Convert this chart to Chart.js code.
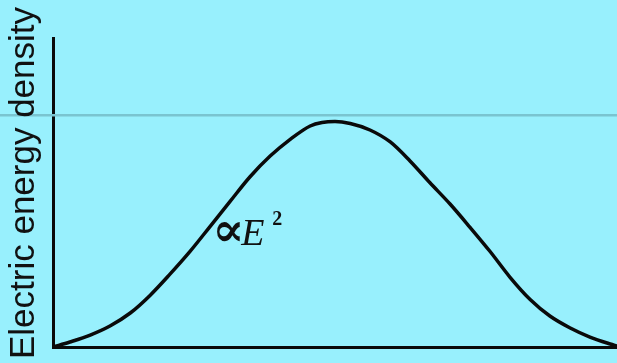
<!DOCTYPE html>
<html>
<head>
<meta charset="utf-8">
<script src="https://cdn.jsdelivr.net/npm/chart.js@4"></script>
<style>
  html, body { margin: 0; padding: 0; background: #98f0fd; }
  #wrap { width: 617px; height: 363px; position: relative; }
</style>
</head>
<body>
<div id="wrap"><canvas id="c"></canvas></div>
<script>
// Position across the region (0 = left edge, 1 = right edge)
const positions = [0, 0.030, 0.066, 0.101, 0.137, 0.172, 0.207, 0.243, 0.278, 0.314,
  0.349, 0.385, 0.420, 0.456, 0.477, 0.500, 0.527, 0.562, 0.598, 0.633,
  0.668, 0.704, 0.739, 0.775, 0.810, 0.846, 0.881, 0.917, 0.952, 0.988, 1.0];
// Electric energy density (arbitrary units)
const density = [0, 0.065, 0.155, 0.272, 0.440, 0.668, 0.940, 1.238, 1.556, 1.885,
  2.201, 2.472, 2.685, 2.861, 2.906, 2.919, 2.893, 2.809, 2.654, 2.408,
  2.129, 1.851, 1.553, 1.236, 0.906, 0.615, 0.401, 0.246, 0.129, 0.039, 0.013];
const axisTitle = 'Electric energy density';
const referenceLevel = 3;
const curveLabel = { symbol: '\u221D', variable: 'E', power: '2', x: 0.284, y: 1.32 };

const points = positions.map((p, i) => ({ x: p, y: density[i] }));

// Thin horizontal reference line across the full width
const referenceLine = {
  id: 'referenceLine',
  beforeDatasetsDraw(chart) {
    const { ctx, scales: { y } } = chart;
    const py = y.getPixelForValue(referenceLevel);
    ctx.save();
    ctx.strokeStyle = 'rgb(122,196,208)';
    ctx.lineWidth = 2.5;
    ctx.beginPath();
    ctx.moveTo(0, py);
    ctx.lineTo(chart.width, py);
    ctx.stroke();
    ctx.restore();
  }
};

// Vertical axis title and the curve annotation
const annotations = {
  id: 'annotations',
  afterDraw(chart) {
    const { ctx, scales: { x, y } } = chart;
    ctx.save();
    ctx.fillStyle = '#111';
    ctx.translate(24, 183);
    ctx.rotate(-Math.PI / 2);
    ctx.font = '35px "Liberation Sans", Arial, sans-serif';
    ctx.textAlign = 'center';
    ctx.textBaseline = 'middle';
    ctx.fillText(axisTitle, 0, 0);
    ctx.restore();

    const lx = x.getPixelForValue(curveLabel.x);
    const ly = y.getPixelForValue(curveLabel.y);
    ctx.save();
    ctx.fillStyle = '#111';
    ctx.textBaseline = 'alphabetic';
    ctx.textAlign = 'left';
    ctx.font = 'bold 48px "Liberation Serif", "DejaVu Serif", serif';
    ctx.fillText(curveLabel.symbol, lx - 1, ly + 1);
    ctx.font = 'italic 38px "Liberation Serif", "DejaVu Serif", serif';
    ctx.fillText(curveLabel.variable, lx + 28, ly);
    ctx.font = 'bold 20px "Liberation Serif", "DejaVu Serif", serif';
    ctx.fillText(curveLabel.power, lx + 59, ly - 20);
    ctx.restore();
  }
};

new Chart(document.getElementById('c'), {
  type: 'line',
  data: {
    datasets: [{
      data: points,
      borderColor: '#0a0a0a',
      borderWidth: 3.5,
      pointRadius: 0,
      fill: false,
      cubicInterpolationMode: 'monotone'
    }]
  },
  options: {
    responsive: true,
    maintainAspectRatio: false,
    animation: false,
    layout: { padding: { top: 38, left: 0, right: 0, bottom: 0 } },
    plugins: { legend: { display: false }, tooltip: { enabled: false } },
    scales: {
      x: {
        type: 'linear',
        min: 0,
        max: 1,
        ticks: { display: false },
        grid: { display: false, drawTicks: false },
        border: { display: true, color: '#0a0a0a', width: 3 },
        afterFit(scale) { scale.height = 16; }
      },
      y: {
        min: 0,
        max: 4,
        ticks: { display: false },
        grid: { display: false, drawTicks: false },
        border: { display: true, color: '#0a0a0a', width: 3 },
        afterFit(scale) { scale.width = 53; }
      }
    }
  },
  plugins: [referenceLine, annotations]
});
</script>
</body>
</html>
